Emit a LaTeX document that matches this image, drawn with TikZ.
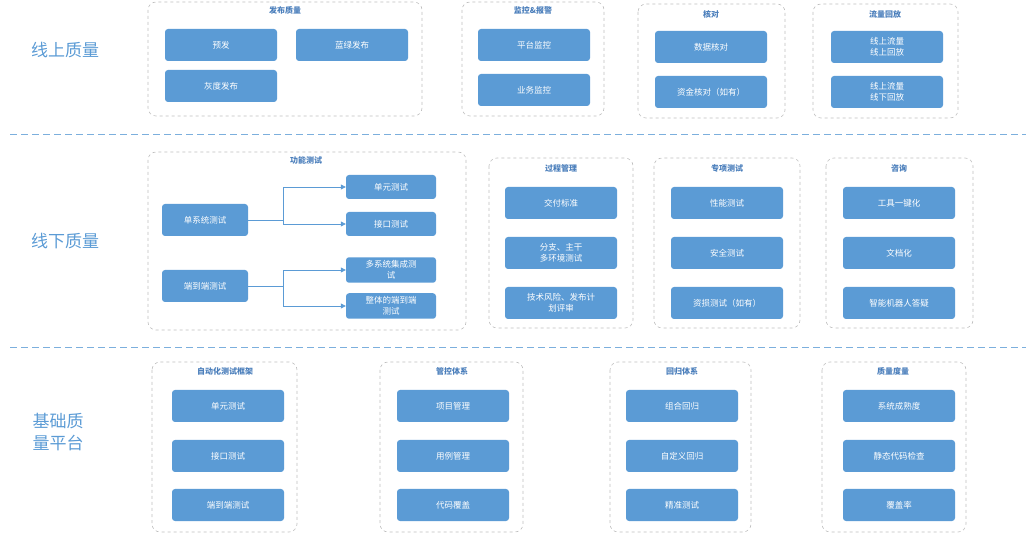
\documentclass[tikz,border=0pt]{standalone}
\usepackage{fontspec}
\setmainfont{Noto Sans CJK SC}
\usetikzlibrary{positioning,arrows.meta}
\definecolor{itemblue}{HTML}{5B9BD5}
\definecolor{titleblue}{HTML}{4A7EBB}
\begin{document}
\begin{tikzpicture}[x=1pt,y=-1pt,
    group/.style={draw=black!25, dashed, rounded corners=8pt, line width=0.6pt},
    title/.style={font=\fontsize{8}{9}\selectfont\bfseries, text=titleblue},
    item/.style={rectangle, rounded corners=3pt, fill=itemblue, text=white, minimum width=112pt, minimum height=32pt, align=center, font=\fontsize{8.5}{11}\selectfont},
    small/.style={item, minimum width=90pt, minimum height=24pt},
    mid/.style={item, minimum width=86pt},
    side/.style={text=itemblue, font=\fontsize{17}{22}\selectfont, align=left},
    sep/.style={draw=itemblue!80, dashed, dash pattern=on 7pt off 4pt, line width=0.8pt}
    ]
    \useasboundingbox (0,0) rectangle (1026,534);
    % separators and side labels
    \draw[sep] (10,134) -- (1026,134);
    \draw[sep] (10,347) -- (1026,347);
    \node (online) [side] at (65,50) {线上质量};
    \node (offline) [side] at (65,241) {线下质量};
    \node (base) [side] at (58,432) {基础质\\量平台};

    % online quality
    \draw[group] (148,2) rectangle (422,116);
    \draw[group] (462,2) rectangle (604,116);
    \draw[group] (638,4) rectangle (785,118);
    \draw[group] (813,4) rectangle (958,118);
    \node (t11) [title] at (285,10) {发布质量};
    \node (t12) [title] at (533,10) {监控\&报警};
    \node (t13) [title] at (711,14) {核对};
    \node (t14) [title] at (885,14) {流量回放};
    \node (pre) [item] at (221,45) {预发};
    \node (bg) [item] at (352,45) {蓝绿发布};
    \node (gray) [item] at (221,86) {灰度发布};
    \node (pmon) [item] at (534,45) {平台监控};
    \node (bmon) [item] at (534,90) {业务监控};
    \node (dchk) [item] at (711,47) {数据核对};
    \node (fchk) [item] at (711,92) {资金核对（如有）};
    \node (rp1) [item] at (887,47) {线上流量\\线上回放};
    \node (rp2) [item] at (887,92) {线上流量\\线下回放};

    % offline quality
    \draw[group] (148,152) rectangle (466,330);
    \draw[group] (489,158) rectangle (633,328);
    \draw[group] (654,158) rectangle (800,328);
    \draw[group] (826,158) rectangle (973,328);
    \node (t21) [title] at (306,160) {功能测试};
    \node (t22) [title] at (561,168) {过程管理};
    \node (t23) [title] at (727,168) {专项测试};
    \node (t24) [title] at (899,168) {咨询};
    \node (single) [mid] at (205,220) {单系统测试};
    \node (e2e) [mid] at (205,286) {端到端测试};
    \node (unit) [small] at (391,187) {单元测试};
    \node (iface) [small] at (391,224) {接口测试};
    \node (multi) [small] at (391,270) {多系统集成测\\试};
    \node (whole) [small] at (391,306) {整体的端到端\\测试};
    \foreach \a/\b in {single/unit, single/iface, e2e/multi, e2e/whole}
      \draw[itemblue, line width=0.8pt, -{Triangle[length=5pt,width=5pt]}]
        (\a.east) -- ++(35,0) |- (\b.west);
    \node (std) [item] at (561,203) {交付标准};
    \node (branch) [item] at (561,253) {分支、主干\\多环境测试};
    \node (risk) [item] at (561,303) {技术风险、发布计\\划评审};
    \node (perf) [item] at (727,203) {性能测试};
    \node (sec) [item] at (727,253) {安全测试};
    \node (loss) [item] at (727,303) {资损测试（如有）};
    \node (tool) [item] at (899,203) {工具一键化};
    \node (doc) [item] at (899,253) {文档化};
    \node (bot) [item] at (899,303) {智能机器人答疑};

    % base platform
    \draw[group] (152,362) rectangle (297,532);
    \draw[group] (380,362) rectangle (523,532);
    \draw[group] (610,362) rectangle (751,532);
    \draw[group] (822,362) rectangle (966,532);
    \node (t31) [title] at (225,371) {自动化测试框架};
    \node (t32) [title] at (452,371) {管控体系};
    \node (t33) [title] at (682,371) {回归体系};
    \node (t34) [title] at (893,371) {质量度量};
    \node (bunit) [item] at (228,406) {单元测试};
    \node (biface) [item] at (228,456) {接口测试};
    \node (be2e) [item] at (228,505) {端到端测试};
    \node (proj) [item] at (453,406) {项目管理};
    \node (case) [item] at (453,456) {用例管理};
    \node (cov) [item] at (453,505) {代码覆盖};
    \node (combo) [item] at (682,406) {组合回归};
    \node (custom) [item] at (682,456) {自定义回归};
    \node (prec) [item] at (682,505) {精准测试};
    \node (mature) [item] at (899,406) {系统成熟度};
    \node (static) [item] at (899,456) {静态代码检查};
    \node (rate) [item] at (899,505) {覆盖率};
\end{tikzpicture}
\end{document}
